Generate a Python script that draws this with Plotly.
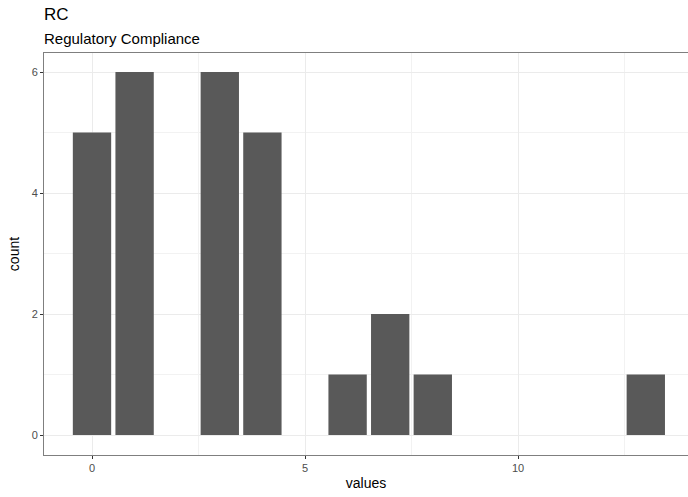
import plotly.graph_objects as go

values = [0, 1, 3, 4, 6, 7, 8, 13]
counts = [5, 6, 6, 5, 1, 2, 1, 1]
x_ticks = [0, 5, 10]
y_ticks = [0, 2, 4, 6]

W, H = 688, 497
L, R, T, B = 44, 0, 53, 42
px_per_x = 42.6
x0 = 92
xr = [(L - x0) / px_per_x, (W - R - x0) / px_per_x]
PH = H - T - B

fig = go.Figure(go.Bar(x=values, y=counts, width=0.9, marker=dict(color="#595959", line=dict(width=0))))

font = "Liberation Sans, Arial, sans-serif"
fig.update_layout(
    width=W, height=H, margin=dict(l=L, r=R, t=T, b=B, autoexpand=False),
    paper_bgcolor="white", plot_bgcolor="white",
    font=dict(family=font, color="#4D4D4D"),
    showlegend=False,
    xaxis=dict(range=xr, tickvals=x_ticks, ticks="outside", ticklen=3, tickcolor="#333333",
               tickfont=dict(size=11, color="#4D4D4D"), showgrid=True, gridcolor="#EBEBEB", gridwidth=1.1,
               minor=dict(tick0=2.5, dtick=5, showgrid=True, gridcolor="#F2F2F2", gridwidth=0.7, ticks=""),
               showline=True, linecolor="#7F7F7F", linewidth=1, mirror=True, zeroline=False,
               automargin=False,
               title=dict(text="values", font=dict(size=14, color="black"), standoff=4)),
    yaxis=dict(range=[-0.33, 6.314], tickvals=y_ticks, ticks="outside", ticklen=3, tickcolor="#333333",
               tickfont=dict(size=11, color="#4D4D4D"), showgrid=True, gridcolor="#EBEBEB", gridwidth=1.1,
               minor=dict(tick0=1, dtick=2, showgrid=True, gridcolor="#F2F2F2", gridwidth=0.7, ticks=""),
               showline=True, linecolor="#7F7F7F", linewidth=1, mirror=False, zeroline=False,
               automargin=False,
               title=dict(text="count", font=dict(size=14, color="black"), standoff=8)),
    annotations=[
        dict(text="RC", x=-0.003, y=1 + (T - 14) / PH, xref="paper", yref="paper", xanchor="left", yanchor="middle",
             showarrow=False, font=dict(size=17, color="black", family=font)),
        dict(text="Regulatory Compliance", x=-0.003, y=1 + (T - 38) / PH, xref="paper", yref="paper", xanchor="left",
             yanchor="middle", showarrow=False, font=dict(size=15, color="black", family=font)),
    ],
)
fig.write_html("out.html", config={"displayModeBar": False},
               post_script="document.body.style.margin='0';document.body.style.overflow='hidden';")
